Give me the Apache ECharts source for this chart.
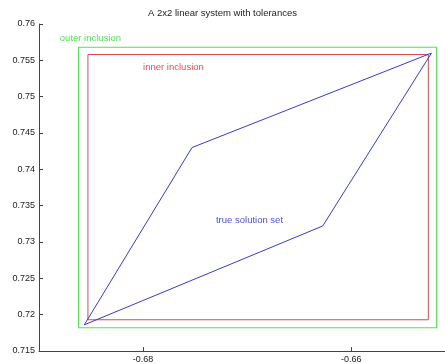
<!DOCTYPE html>
<html>
<head>
<meta charset="utf-8">
<style>
  html, body { margin: 0; padding: 0; background: #fff; }
  #chart { width: 445px; height: 364px; }
</style>
<script src="https://cdn.jsdelivr.net/npm/echarts@6/dist/echarts.min.js"></script>
</head>
<body>
<div id="chart"></div>
<script>
// Outer and inner interval enclosures: [min, max] in x and y
var outerX = [-0.6862, -0.6518];
var outerY = [0.7182, 0.7568];
var innerX = [-0.6853, -0.6526];
var innerY = [0.7193, 0.7558];

// Vertices of the exact solution set (a parallelogram), in drawing order
var solutionX = [-0.68565, -0.6753, -0.6523, -0.66275];
var solutionY = [0.7186, 0.7430, 0.7560, 0.7322];

// Text annotations and where they sit in data space
var noteText = ['outer inclusion', 'inner inclusion', 'true solution set'];
var noteX = [-0.688, -0.680, -0.673];
var noteY = [0.758, 0.754, 0.733];
var noteColor = ['#22dd22', '#dd2222', '#2222cc'];

// Axis ticks
var xTicks = [-0.68, -0.66];
var yTicks = [0.715, 0.72, 0.725, 0.73, 0.735, 0.74, 0.745, 0.75, 0.755, 0.76];

function boxPath(xs, ys) {
  return [[xs[0], ys[0]], [xs[1], ys[0]], [xs[1], ys[1]], [xs[0], ys[1]], [xs[0], ys[0]]];
}
function polyPath(xs, ys) {
  var pts = xs.map(function (x, i) { return [x, ys[i]]; });
  pts.push(pts[0]);
  return pts;
}

var font = 'Liberation Sans, Arial, Helvetica, sans-serif';
var chart = echarts.init(document.getElementById('chart'), null, { renderer: 'canvas' });

var series = [
  {
    type: 'line', data: boxPath(outerX, outerY), symbol: 'none', silent: true,
    lineStyle: { color: '#55e055', width: 1.2 }, animation: false
  },
  {
    type: 'line', data: boxPath(innerX, innerY), symbol: 'none', silent: true,
    lineStyle: { color: '#d84a4a', width: 1 }, animation: false
  },
  {
    type: 'line', data: polyPath(solutionX, solutionY), symbol: 'none', silent: true,
    lineStyle: { color: '#3a3acc', width: 1 }, animation: false
  }
];
noteText.forEach(function (t, i) {
  series.push({
    type: 'scatter', symbolSize: 0, silent: true, animation: false,
    data: [{ value: [noteX[i], noteY[i]], name: t }],
    label: {
      show: true, position: 'right', distance: 0, formatter: '{b}',
      color: noteColor[i], fontSize: 9.5, fontFamily: font
    }
  });
});

chart.setOption({
  backgroundColor: '#ffffff',
  title: {
    text: 'A 2x2 linear system with tolerances',
    left: 'center', top: 3,
    textStyle: { fontSize: 9.5, fontWeight: 'normal', color: '#222', fontFamily: font }
  },
  grid: { left: 39, top: 24, right: 0, height: 328 },
  xAxis: {
    type: 'value', min: -0.69, max: -0.651,
    axisLine: { show: true, onZero: false, lineStyle: { color: '#444', width: 1 } },
    axisTick: { show: true, inside: true, length: 4, customValues: xTicks, lineStyle: { color: '#444' } },
    axisLabel: {
      customValues: xTicks, margin: 4, fontSize: 9, color: '#222', fontFamily: font,
      formatter: function (v) { return String(parseFloat(v.toFixed(3))); }
    },
    splitLine: { show: false }
  },
  yAxis: {
    type: 'value', min: 0.715, max: 0.76,
    axisLine: { show: true, onZero: false, lineStyle: { color: '#444', width: 1 } },
    axisTick: { show: true, inside: true, length: 4, customValues: yTicks, lineStyle: { color: '#444' } },
    axisLabel: {
      customValues: yTicks, margin: 4, fontSize: 9, color: '#222', fontFamily: font,
      formatter: function (v) { return String(parseFloat(v.toFixed(3))); }
    },
    splitLine: { show: false }
  },
  series: series
});
</script>
</body>
</html>
